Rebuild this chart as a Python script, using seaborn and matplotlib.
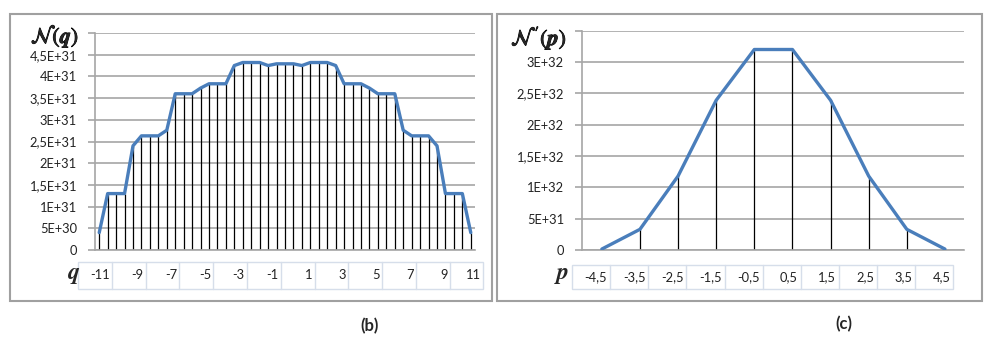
import numpy as np
import seaborn as sns
import matplotlib.pyplot as plt
import matplotlib.patheffects as pe
from matplotlib.patches import Rectangle

# data
q = [-11, -10.5, -10, -9.5, -9, -8.5, -8, -7.5, -7, -6.5, -6, -5.5, -5, -4.5, -4, -3.5,
     -3, -2.5, -2, -1.5, -1, -0.5, 0, 0.5, 1, 1.5, 2, 2.5, 3, 3.5, 4, 4.5,
     5, 5.5, 6, 6.5, 7, 7.5, 8, 8.5, 9, 9.5, 10, 10.5, 11]
N_q = [0.40, 1.30, 1.30, 1.30, 2.40, 2.63, 2.63, 2.63, 2.76, 3.60, 3.60, 3.60, 3.73, 3.83, 3.83, 3.83,
       4.25, 4.32, 4.32, 4.32, 4.25, 4.29, 4.29, 4.29, 4.25, 4.32, 4.32, 4.32, 4.25, 3.83, 3.83, 3.83,
       3.73, 3.60, 3.60, 3.60, 2.76, 2.63, 2.63, 2.63, 2.40, 1.30, 1.30, 1.30, 0.40]
N_q = [v * 1e31 for v in N_q]
q_labels = ['-11', '-9', '-7', '-5', '-3', '-1', '1', '3', '5', '7', '9', '11']
q_label_pos = [-11, -9, -7, -5, -3, -1, 1, 3, 5, 7, 9, 11]

p = [-4.5, -3.5, -2.5, -1.5, -0.5, 0.5, 1.5, 2.5, 3.5, 4.5]
N_p = [0.015, 0.33, 1.18, 2.39, 3.20, 3.20, 2.39, 1.18, 0.33, 0.015]
N_p = [v * 1e32 for v in N_p]
p_labels = ['-4,5', '-3,5', '-2,5', '-1,5', '-0,5', '0,5', '1,5', '2,5', '3,5', '4,5']

yt_left = [0, 5e30, 1e31, 1.5e31, 2e31, 2.5e31, 3e31, 3.5e31, 4e31, 4.5e31, 5e31]
yl_left = ['0', '5E+30', '1E+31', '1,5E+31', '2E+31', '2,5E+31', '3E+31', '3,5E+31', '4E+31', '4,5E+31', '']
yt_right = [0, 5e31, 1e32, 1.5e32, 2e32, 2.5e32, 3e32, 3.5e32]
yl_right = ['0', '5E+31', '1E+32', '1,5E+32', '2E+32', '2,5E+32', '3E+32', '']

sns.set_style('white')
plt.rcParams['font.family'] = ['Lato', 'DejaVu Sans']
plt.rcParams['mathtext.fontset'] = 'stix'

W, H = 984, 338
fig = plt.figure(figsize=(W / 100, H / 100), dpi=100)

blue = '#4a7ebb'
grid = '#a6a6a6'
cell = '#d6deea'
bold = [pe.withStroke(linewidth=0.6, foreground='black')]


def px_axes(x0, x1, ytop, ybot):
    return fig.add_axes([x0 / W, 1 - ybot / H, (x1 - x0) / W, (ybot - ytop) / H])


def style(ax, yt, yl, xlim, ylim):
    ax.set_xlim(*xlim)
    ax.set_ylim(*ylim)
    ax.set_yticks(yt)
    ax.set_yticklabels(yl, fontsize=9.3, color='#222222')
    ax.set_xticks([])
    ax.yaxis.grid(True, color=grid, lw=1.2)
    ax.tick_params(axis='y', length=5, width=1.2, color=grid, pad=8, left=True)
    for s in ['top', 'right']:
        ax.spines[s].set_visible(False)
    for s in ['left', 'bottom']:
        ax.spines[s].set_color(grid)
        ax.spines[s].set_linewidth(1.2)
    ax.set_xlabel('')
    ax.set_ylabel('')


def table(ax, edges, y0, y1):
    tr = ax.get_xaxis_transform()
    ax.add_patch(Rectangle((edges[0], y0), edges[-1] - edges[0], y1 - y0, transform=tr,
                           fill=False, ec=cell, lw=1.0, clip_on=False))
    for e in edges[1:-1]:
        ax.plot([e, e], [y0, y1], transform=tr, color=cell, lw=1.0, clip_on=False)


# left chart
ax1 = px_axes(95, 475, 33, 250)
ax1.vlines(q, 0, N_q, color='black', lw=0.9, zorder=2)
sns.lineplot(x=q, y=N_q, ax=ax1, color=blue, lw=2.4, zorder=3, solid_joinstyle='round')
style(ax1, yt_left, yl_left, (-11.25, 11.25), (0, 5e31))
table(ax1, [-12.25 + 2 * k for k in range(13)], -0.055, -0.18)
for x, t in zip(q_label_pos, q_labels):
    ax1.text(x + 0.62, -0.1175, t, transform=ax1.get_xaxis_transform(), ha='right', va='center',
             fontsize=9.3, color='#222222')
fig.text(74 / W, 1 - 276 / H, r'$\boldsymbol{q}$', fontsize=17, ha='center', va='center')
fig.text(55 / W, 1 - 36 / H, r'$\mathcal{N}(\boldsymbol{q})$', fontsize=16, ha='center', va='center',
         path_effects=bold)

# right chart
ax2 = px_axes(582, 964, 30.7, 250)
ax2.vlines(p, 0, N_p, color='black', lw=0.9, zorder=2)
sns.lineplot(x=p, y=N_p, ax=ax2, color=blue, lw=2.4, zorder=3, solid_joinstyle='round')
style(ax2, yt_right, yl_right, (-5.02, 5.0), (0, 3.5e32))
table(ax2, [-5.28 + k for k in range(11)], -0.068, -0.178)
for x, t in zip(p, p_labels):
    ax2.text(x + 0.14, -0.123, t, transform=ax2.get_xaxis_transform(), ha='right', va='center',
             fontsize=9.3, color='#222222')
fig.text(562 / W, 1 - 276 / H, r'$\boldsymbol{p}$', fontsize=17, ha='center', va='center')
fig.text(539 / W, 1 - 38 / H, r"$\mathcal{N}^{\,\prime}(\boldsymbol{p})$", fontsize=16, ha='center',
         va='center', path_effects=bold)

# panel borders
for x0, x1 in [(10, 492), (497, 982)]:
    fig.patches.append(Rectangle((x0 / W, 1 - 301 / H), (x1 - x0) / W, 287 / H,
                                 transform=fig.transFigure, fill=False, ec='#a0a0a0', lw=1.5))

fig.text(370 / W, 1 - 326 / H, '(b)', fontsize=12, fontweight='bold', ha='center', va='center')
fig.text(844 / W, 1 - 324 / H, '(c)', fontsize=12, fontweight='bold', ha='center', va='center')

fig.savefig('out.png', dpi=100)
